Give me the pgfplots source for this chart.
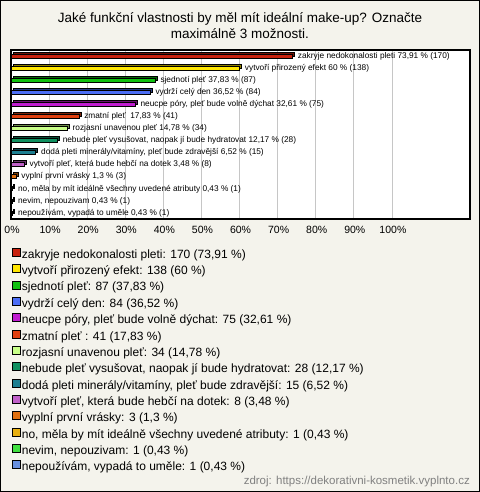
\documentclass[border=0pt]{standalone}
\usepackage{fontspec}
\setmainfont{Liberation Sans}
\usepackage{pgfplots}
\pgfplotsset{compat=1.18}
\definecolor{bg}{RGB}{244,243,236}
\definecolor{c1}{RGB}{200,34,14}
\definecolor{c2}{RGB}{255,230,0}
\definecolor{c3}{RGB}{16,192,16}
\definecolor{c4}{RGB}{76,110,245}
\definecolor{c5}{RGB}{192,28,208}
\definecolor{c6}{RGB}{224,64,16}
\definecolor{c7}{RGB}{200,255,136}
\definecolor{c8}{RGB}{16,144,96}
\definecolor{c9}{RGB}{28,126,144}
\definecolor{c10}{RGB}{192,96,200}
\definecolor{c11}{RGB}{224,112,16}
\definecolor{c12}{RGB}{232,176,16}
\definecolor{c13}{RGB}{64,224,64}
\definecolor{c14}{RGB}{104,144,224}
\newcommand{\labfont}{\fontsize{8.3bp}{9bp}\selectfont}
\newcommand{\legfont}{\fontsize{12bp}{14bp}\selectfont}
\newcommand{\mybar}[5]{%
 \addplot[xbar, bar shift=0pt, bar width=4bp, draw=black, line width=0.8bp, fill=#1!55!black, forget plot, xshift=2bp, yshift=2bp] coordinates {(#2,#3)};
 \addplot[xbar, bar shift=0pt, bar width=4bp, draw=black, line width=0.8bp, fill=#1, nodes near coords={#4},
   legend image code/.code={\draw[draw=black, line width=0.7bp, fill=#1] (0bp,-1bp) rectangle (8bp,7bp);}] coordinates {(#2,#3)};
 \addlegendentry{#5}}
\begin{document}
\begin{tikzpicture}
\fill[bg] (0,0) rectangle (480bp,-492bp);
\draw[black, line width=1bp] (0.5bp,-0.5bp) rectangle (479.5bp,-491.5bp);
\node[align=center, font=\fontsize{13.5bp}{16bp}\selectfont, inner sep=0pt] at (240bp,-26bp) {Jaké funkční vlastnosti by měl mít ideální make-up? Označte\\maximálně 3 možnosti.};
\begin{axis}[at={(11bp,-50bp)}, anchor=north west, width=459bp, height=169bp, scale only axis,
  xmin=0, xmax=120.5, ymin=0.5, ymax=14.5, y dir=reverse,
  axis background/.style={fill=white},
  axis line style={line width=1.2bp},
  clip=false,
  xtick={0,10,...,100}, ytick=\empty, major tick length=0pt,
  xmajorgrids, grid style={gray!45, line width=0.8bp},
  /pgf/number format/assume math mode=true,
  xticklabel={\pgfmathprintnumber{\tick}\%},
  xticklabel style={font=\fontsize{10.5bp}{12bp}\selectfont, anchor=north, inner sep=0pt, yshift=-7bp, xshift=1bp},
  every node near coord/.append style={anchor=west, xshift=5bp, inner sep=0pt, font=\labfont, text=black},
  legend cell align=left,
  legend style={draw=none, fill=none, at={(0,-0.17)}, anchor=north west, font=\legfont,
    inner xsep=1bp, inner ysep=0pt, row sep=2bp,
    nodes={inner sep=1bp, text height=9bp, text depth=3bp}},
]
\mybar{c1}{73.91}{1}{zakryje nedokonalosti pleti 73,91 \% (170)}{zakryje nedokonalosti pleti: 170 (73,91 \%)}
\mybar{c2}{60}{2}{vytvoří přirozený efekt 60 \% (138)}{vytvoří přirozený efekt: 138 (60 \%)}
\mybar{c3}{37.83}{3}{sjednotí pleť 37,83 \% (87)}{sjednotí pleť: 87 (37,83 \%)}
\mybar{c4}{36.52}{4}{vydrží celý den 36,52 \% (84)}{vydrží celý den: 84 (36,52 \%)}
\mybar{c5}{32.61}{5}{neucpe póry, pleť bude volně dýchat 32,61 \% (75)}{neucpe póry, pleť bude volně dýchat: 75 (32,61 \%)}
\mybar{c6}{17.83}{6}{zmatní pleť \ 17,83 \% (41)}{zmatní pleť : 41 (17,83 \%)}
\mybar{c7}{14.78}{7}{rozjasní unavenou pleť 14,78 \% (34)}{rozjasní unavenou pleť: 34 (14,78 \%)}
\mybar{c8}{12.17}{8}{nebude pleť vysušovat, naopak jí bude hydratovat 12,17 \% (28)}{nebude pleť vysušovat, naopak jí bude hydratovat: 28 (12,17 \%)}
\mybar{c9}{6.52}{9}{dodá pleti minerály/vitamíny, pleť bude zdravější 6,52 \% (15)}{dodá pleti minerály/vitamíny, pleť bude zdravější: 15 (6,52 \%)}
\mybar{c10}{3.48}{10}{vytvoří pleť, která bude hebčí na dotek 3,48 \% (8)}{vytvoří pleť, která bude hebčí na dotek: 8 (3,48 \%)}
\mybar{c11}{1.3}{11}{vyplní první vrásky 1,3 \% (3)}{vyplní první vrásky: 3 (1,3 \%)}
\mybar{c12}{0.43}{12}{no, měla by mít ideálně všechny uvedené atributy 0,43 \% (1)}{no, měla by mít ideálně všechny uvedené atributy: 1 (0,43 \%)}
\mybar{c13}{0.43}{13}{nevim, nepouzivam 0,43 \% (1)}{nevim, nepouzivam: 1 (0,43 \%)}
\mybar{c14}{0.43}{14}{nepoužívám, vypadá to uměle 0,43 \% (1)}{nepoužívám, vypadá to uměle: 1 (0,43 \%)}
\end{axis}
\node[anchor=east, text=gray, font=\fontsize{11.5bp}{13bp}\selectfont, inner sep=0pt] at (470bp,-482bp) {zdroj: https://dekorativni-kosmetik.vyplnto.cz};
\pgfresetboundingbox
\path[use as bounding box] (0,0) rectangle (480bp,-492bp);
\end{tikzpicture}
\end{document}
